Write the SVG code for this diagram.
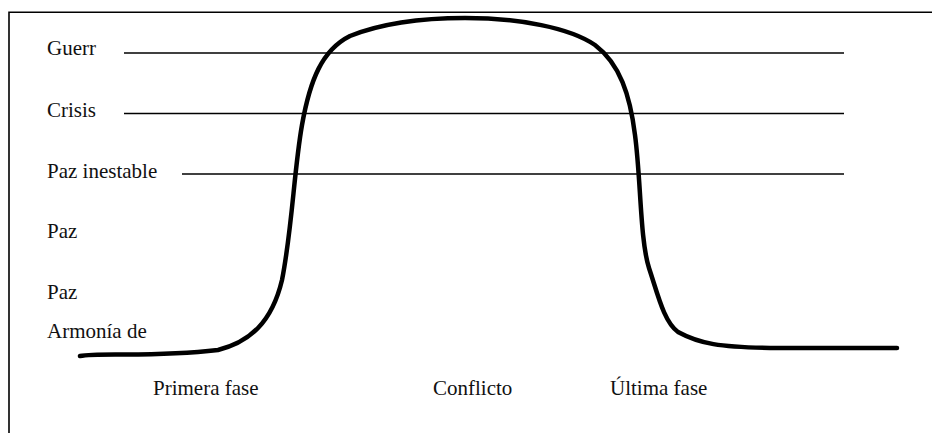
<svg xmlns="http://www.w3.org/2000/svg" width="932" height="433" viewBox="0 0 932 433">
<style>
.t{font-family:"Liberation Serif","Times New Roman",serif;font-size:21px;fill:#111}
.lv{stroke:#000;stroke-width:1.6;fill:none}
.fr{stroke:#000;stroke-width:1.6;fill:none}
.cv{stroke:#000;stroke-width:4.5;fill:none;stroke-linecap:round;stroke-linejoin:round}
</style>
<rect width="932" height="433" fill="#fff"/>
<path class="fr" d="M9,433 V12.3 H932"/>
<g id="levels">
<g id="guerr"><text class="t" x="47" y="55">Guerr</text><line class="lv" x1="124" y1="53" x2="844" y2="53"/></g>
<g id="crisis"><text class="t" x="47" y="117">Crisis</text><line class="lv" x1="124" y1="113.5" x2="844" y2="113.5"/></g>
<g id="paz-inestable"><text class="t" x="47" y="178">Paz inestable</text><line class="lv" x1="182" y1="174" x2="844" y2="174"/></g>
<g id="paz1"><text class="t" x="47" y="238">Paz</text></g>
<g id="paz2"><text class="t" x="47" y="299">Paz</text></g>
<g id="armonia"><text class="t" x="47" y="338">Armonía de</text></g>
</g>
<g id="phases">
<text class="t" x="153" y="395">Primera fase</text>
<text class="t" x="433" y="395">Conflicto</text>
<text class="t" x="610" y="395">Última fase</text>
</g>
<g id="connectors">
<path class="cv" d="M80,356 C100,352 150,358 218,350 C250,342 272,322 282,280 C292,230 294,170 302,125 C310,80 322,50 350,36 C385,22 430,18 465,18 C520,18 570,28 595,45 C620,64 630,95 635,135 C641,180 640,240 649,268 C658,295 664,322 678,332 C700,344 720,347 770,348 L897,348"/>
</g>
</svg>
